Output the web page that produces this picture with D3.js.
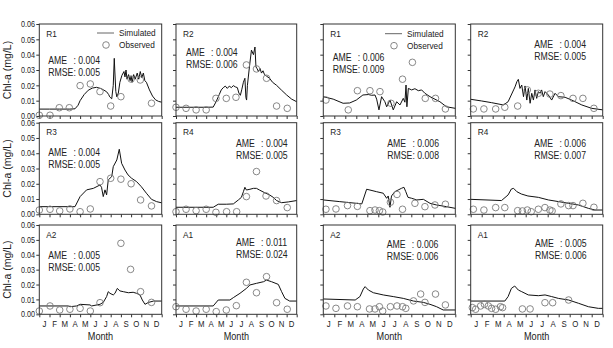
<!DOCTYPE html>
<html>
<head>
<meta charset="utf-8">
<script src="https://cdn.jsdelivr.net/npm/d3@7"></script>
<style>
  html, body { margin: 0; padding: 0; background: #fff; }
  svg { display: block; font-family: "Liberation Sans", Arial, sans-serif; }
</style>
</head>
<body>
<div id="chart"></div>
<script>
// tick labels
const months = ["J", "F", "M", "A", "M", "J", "J", "A", "S", "O", "N", "D"];
const yTicks = [0, 0.01, 0.02, 0.03, 0.04, 0.05, 0.06];
const stations = [["R1", "R2"], ["R3", "R4"], ["A2", "A1"]];

// error statistics, [AME, RMSE]
const statsLeft = { R1: [0.004, 0.005], R2: [0.004, 0.006], R3: [0.004, 0.005], R4: [0.004, 0.005], A2: [0.005, 0.005], A1: [0.011, 0.024] };
const statsRight = { R1: [0.006, 0.009], R2: [0.004, 0.005], R3: [0.006, 0.008], R4: [0.006, 0.007], A2: [0.006, 0.006], A1: [0.005, 0.006] };

// simulated series, [month, Chl-a mg/L] -- left group
const simL_R1 = [[0,0.0045],[1,0.0045],[2,0.0045],[3,0.0045],[3.5,0.0047],[3.8,0.007],[4,0.010],[4.4,0.014],[4.8,0.0168],[5.2,0.0182],[5.6,0.0187],[6,0.018],[6.3,0.017],[6.6,0.0158],[6.8,0.014],[6.9,0.0125],[7.1,0.0112],[7.25,0.02],[7.35,0.0376],[7.4,0.03],[7.5,0.016],[7.6,0.0125],[7.75,0.015],[7.9,0.022],[8.1,0.0265],[8.3,0.029],[8.4,0.0255],[8.5,0.03],[8.6,0.024],[8.75,0.027],[8.9,0.023],[9.0,0.026],[9.1,0.022],[9.25,0.027],[9.4,0.024],[9.6,0.028],[9.75,0.024],[9.9,0.029],[10.05,0.025],[10.2,0.028],[10.35,0.023],[10.5,0.022],[10.8,0.017],[11.1,0.013],[11.4,0.0105],[11.7,0.0095],[12,0.009]];
const simL_R2 = [[0,0.0057],[1,0.0057],[2,0.0057],[3,0.0057],[3.7,0.0058],[4.0,0.0095],[4.3,0.014],[4.5,0.017],[4.7,0.0185],[4.9,0.0195],[5.1,0.018],[5.3,0.0195],[5.5,0.0185],[5.7,0.0198],[5.9,0.019],[6.1,0.0185],[6.25,0.015],[6.4,0.0135],[6.55,0.0175],[6.7,0.022],[6.85,0.0246],[6.95,0.012],[7.02,0.0104],[7.1,0.02],[7.3,0.032],[7.5,0.043],[7.7,0.040],[7.85,0.045],[7.95,0.032],[8.05,0.031],[8.2,0.029],[8.35,0.031],[8.5,0.028],[8.65,0.0295],[8.8,0.027],[9.0,0.026],[9.3,0.0246],[9.6,0.022],[10,0.020],[10.5,0.0168],[11,0.0137],[11.5,0.011],[12,0.0093]];
const simL_R3 = [[0,0.005],[3.5,0.005],[4.0,0.0116],[4.64,0.016],[5.3,0.017],[5.95,0.0192],[6.1,0.0177],[6.27,0.0116],[6.44,0.016],[6.6,0.0127],[6.76,0.0225],[7.1,0.0247],[7.25,0.0312],[7.6,0.0356],[7.84,0.0426],[8.07,0.0334],[8.4,0.029],[8.7,0.0258],[9.05,0.0236],[9.54,0.0214],[10.0,0.0181],[10.5,0.0138],[11.0,0.0098],[11.5,0.0083],[12,0.0075]];
const simL_R4 = [[0,0.0046],[3.7,0.0046],[4.2,0.0066],[5.0,0.0066],[5.7,0.0068],[6.2,0.0094],[6.5,0.0111],[6.7,0.0148],[6.85,0.0177],[7.0,0.0159],[7.35,0.0164],[7.7,0.017],[8.0,0.017],[8.3,0.0159],[8.8,0.0142],[9.3,0.0127],[9.67,0.0111],[10.0,0.009],[10.5,0.0076],[11.16,0.0081],[12,0.009]];
const simL_A2 = [[0,0.0056],[2.84,0.0056],[3.0,0.0051],[3.66,0.0056],[4.0,0.0067],[4.97,0.0063],[5.13,0.0056],[5.95,0.0067],[6.27,0.008],[6.6,0.0119],[6.76,0.0152],[6.93,0.0141],[7.25,0.013],[7.42,0.0141],[7.65,0.0174],[7.9,0.0157],[8.24,0.0152],[8.73,0.0145],[9.2,0.0148],[9.54,0.0141],[9.87,0.013],[10.1,0.0096],[10.36,0.0067],[10.7,0.008],[11.2,0.0089],[12,0.0089]];
const simL_A1 = [[0,0.0056],[3.7,0.0056],[4.2,0.0096],[5.36,0.0096],[5.7,0.0112],[6.36,0.0141],[7.0,0.0174],[7.35,0.0197],[8.0,0.0208],[8.7,0.0219],[9.0,0.023],[9.5,0.0219],[10.17,0.0201],[10.5,0.0152],[10.83,0.0107],[11.3,0.0089],[12,0.0089]];

// simulated series -- right group
const simR_R1 = [[0,0.0126],[0.9,0.011],[1.8,0.0083],[2.4,0.0085],[3.0,0.0104],[3.6,0.0137],[4.1,0.014],[4.4,0.0135],[4.7,0.0137],[4.85,0.011],[5.06,0.004],[5.3,0.0126],[5.6,0.0093],[5.76,0.006],[6.06,0.0104],[6.36,0.004],[6.67,0.0093],[6.97,0.0072],[7.27,0.0115],[7.42,0.009],[7.52,0.0202],[7.6,0.006],[7.73,0.018],[8.03,0.017],[8.33,0.0178],[8.64,0.0165],[8.94,0.017],[9.24,0.0148],[9.7,0.0126],[10.6,0.0093],[11.2,0.006],[12,0.005]];
const simR_R2 = [[0,0.0109],[1,0.0098],[1.9,0.0087],[2.97,0.0072],[3.4,0.0093],[3.9,0.017],[4.03,0.019],[4.2,0.0224],[4.33,0.0239],[4.48,0.018],[4.64,0.0202],[4.8,0.0126],[4.94,0.0196],[5.1,0.0104],[5.24,0.018],[5.4,0.0083],[5.55,0.0148],[5.7,0.0104],[5.85,0.017],[6.0,0.0115],[6.15,0.0159],[6.3,0.0148],[6.45,0.017],[6.6,0.0126],[6.76,0.0159],[7.06,0.0137],[7.36,0.0104],[7.67,0.0148],[7.97,0.0126],[8.58,0.0122],[9.18,0.0104],[10.1,0.0072],[11,0.005],[12,0.004]];
const simR_R3 = [[0,0.0094],[1.5,0.0083],[3.0,0.0072],[3.5,0.0068],[3.94,0.0164],[4.24,0.0159],[4.85,0.0148],[5.45,0.0138],[5.76,0.0105],[5.9,0.012],[6.06,0.0046],[6.2,0.012],[6.5,0.0148],[6.8,0.0159],[7.1,0.017],[7.33,0.0177],[7.5,0.0148],[7.7,0.0111],[8.03,0.0105],[8.5,0.0094],[9.1,0.0098],[9.7,0.0072],[10.3,0.0061],[11.2,0.005],[12,0.0039]];
const simR_R4 = [[0,0.0098],[2.8,0.009],[3.4,0.0127],[3.7,0.0166],[3.9,0.017],[4.2,0.0148],[4.6,0.0133],[5.2,0.012],[6.15,0.0111],[7.06,0.0094],[8.0,0.0083],[8.9,0.0072],[9.8,0.0061],[10.7,0.0039],[11.3,0.0028],[12,0.0028]];
const simR_A2 = [[0,0.0103],[2.9,0.0096],[3.33,0.0119],[3.64,0.017],[3.8,0.0186],[4.1,0.0163],[4.55,0.0145],[5.45,0.013],[6.36,0.0119],[7.27,0.0107],[8.2,0.0089],[9.1,0.008],[9.7,0.0067],[10.3,0.0051],[10.9,0.0029],[12,0.0029]];
const simR_A1 = [[0,0.0089],[3.1,0.0089],[3.4,0.0119],[3.7,0.0174],[4.0,0.019],[4.33,0.0163],[4.64,0.0152],[5.24,0.013],[6.15,0.0125],[6.76,0.013],[7.36,0.0119],[7.97,0.0107],[8.9,0.0096],[9.8,0.0074],[10.7,0.0051],[11.6,0.004],[12,0.004]];

// observed samples -- left group
const obsL_R1 = [[0,0.0005],[1.05,0.0005],[1.96,0.0054],[2.94,0.0054],[4,0.0198],[5,0.0209],[5.95,0.0159],[7,0.0065],[8,0.0126],[9,0.0241],[9.9,0.0235],[11,0.0083]];
const obsL_R2 = [[0,0.0057],[1,0.005],[2,0.004],[3,0.004],[3.97,0.0115],[5,0.0115],[5.96,0.0122],[7,0.0333],[8,0.0307],[9,0.0246],[10,0.0065],[11.06,0.005]];
const obsL_R3 = [[0,0.0028],[1.05,0.0033],[2,0.0022],[3,0.0035],[4,0.0017],[5,0.0035],[5.95,0.0214],[7,0.0236],[8,0.023],[9,0.02],[9.93,0.0094],[11,0.0055]];
const obsL_R4 = [[0,0.0017],[1,0.0033],[2,0.0024],[3,0.0033],[3.97,0.0013],[5.03,0.0017],[6.03,0.0017],[7,0.0116],[8,0.028],[8.95,0.012],[10,0.009],[11.06,0.0044]];
const obsL_A2 = [[0,0.0022],[1.05,0.0056],[2,0.0029],[3,0.0034],[4,0.004],[5,0.0022],[5.95,0.0078],[8,0.0477],[8.95,0.0302],[9.93,0.0152],[11,0.008]];
const obsL_A1 = [[0,0.0051],[1,0.0034],[2,0.0022],[3,0.0034],[4,0.0018],[5,0.0029],[6,0.0058],[7,0.0215],[8,0.0145],[9,0.0253],[10,0.0078],[11.06,0.0034]];

// observed samples -- right group
const obsR_R1 = [[0.24,0.0104],[2.27,0.004],[3.1,0.0165],[4.24,0.0165],[5.15,0.0159],[6.15,0.0083],[7.2,0.024],[8.1,0.035],[9.27,0.0115],[10.2,0.0115],[11.1,0.0046]];
const obsR_R2 = [[0.24,0.0046],[1.2,0.0046],[2.27,0.0046],[3.1,0.0057],[4.27,0.0065],[5.15,0.017],[6.15,0.0148],[7.2,0.0143],[8.2,0.0133],[9.3,0.0115],[10.2,0.0115],[11.2,0.005]];
const obsR_R3 = [[0.24,0.0033],[1.15,0.0035],[2.2,0.0057],[3.1,0.0052],[4.24,0.0024],[4.7,0.0028],[5.1,0.0024],[5.4,0.0015],[6.1,0.0079],[6.7,0.013],[7.2,0.0033],[8.33,0.0072],[9.24,0.005],[10.15,0.0061],[11.1,0.0066]];
const obsR_R4 = [[0.24,0.0033],[1.2,0.0028],[2.27,0.0044],[3.1,0.0044],[4.27,0.0024],[4.7,0.0022],[5.15,0.0028],[5.5,0.0017],[6.15,0.0033],[6.75,0.0044],[7.2,0.0028],[7.4,0.0022],[8.2,0.0068],[8.9,0.0057],[9.3,0.0057],[10.2,0.0072],[11.2,0.0046]];
const obsR_A2 = [[0.24,0.0056],[1.15,0.004],[2.2,0.0056],[3.1,0.0051],[4.2,0.0036],[4.7,0.0036],[5.1,0.0051],[5.4,0.0022],[6.1,0.0051],[6.7,0.0056],[7.2,0.0051],[7.5,0.004],[8.2,0.009],[8.85,0.0136],[9.24,0.008],[10.2,0.0136],[11.1,0.0063]];
const obsR_A1 = [[0.15,0.0045],[0.45,0.0034],[0.9,0.0056],[1.25,0.0067],[1.6,0.0056],[1.9,0.004],[2.27,0.0034],[2.7,0.0051],[2.9,0.0045],[4.7,0.0036],[5.4,0.0036],[6.75,0.0078],[7.45,0.0078],[8.9,0.0096]];

const simulated = [
  { R1: simL_R1, R2: simL_R2, R3: simL_R3, R4: simL_R4, A2: simL_A2, A1: simL_A1 },
  { R1: simR_R1, R2: simR_R2, R3: simR_R3, R4: simR_R4, A2: simR_A2, A1: simR_A1 },
];
const observed = [
  { R1: obsL_R1, R2: obsL_R2, R3: obsL_R3, R4: obsL_R4, A2: obsL_A2, A1: obsL_A1 },
  { R1: obsR_R1, R2: obsR_R2, R3: obsR_R3, R4: obsR_R4, A2: obsR_A2, A1: obsR_A1 },
];
const stats = [statsLeft, statsRight];

// layout
const width = 613;
const height = 348;
const SX = 0.87; // text in the original is a bit narrow
const cols = [[39.3, 161.7], [176, 296.7], [323.3, 455.3], [470.7, 602.7]];
const rows = [[24, 116], [122.7, 214.3], [225, 314.3]];
// where the AME / RMSE block sits: [dx from left, baseline dy from top]
const statPos = [
  { R1: [9, 39.5], R2: [10, 31.5], R3: [9, 33.5], R4: [60, 24.5], A2: [9, 34], A1: [60, 21] },
  { R1: [9.4, 37], R2: [63.6, 24], R3: [64, 24.5], R4: [63.6, 24.5], A2: [63.4, 23], A1: [64.3, 22] },
];
const legendPos = [[57.7, 9], [61.7, 9.7]];

const ink = "#222";

const svg = d3
  .select("#chart")
  .append("svg")
  .attr("width", width)
  .attr("height", height)
  .attr("viewBox", `0 0 ${width} ${height}`);

svg.append("rect").attr("width", width).attr("height", height).attr("fill", "#fff");

function addText(sel, x, y, s, size, anchor) {
  return sel
    .append("text")
    .attr("transform", `translate(${x},${y}) scale(${SX},1)`)
    .attr("font-size", size)
    .attr("fill", ink)
    .attr("text-anchor", anchor || "start")
    .text(s);
}

const fmt = d3.format(".3f");

[0, 1].forEach((grp) => {
  stations.forEach((rowNames, r) => {
    rowNames.forEach((name, c) => {
      const ci = grp * 2 + c;
      const [x0, x1] = cols[ci];
      const [y0, y1] = rows[r];
      const x = d3.scaleLinear().domain([0, 12]).range([x0, x1]);
      const y = d3.scaleLinear().domain([0, 0.06]).range([y1, y0]);
      const g = svg.append("g");

      // y axis ticks (labels only on far left)
      const yAxis = g
        .append("g")
        .attr("transform", `translate(${x0},0)`)
        .call(
          d3
            .axisLeft(y)
            .tickValues(yTicks)
            .tickSize(3)
            .tickPadding(2)
            .tickFormat(ci === 0 ? d3.format(".2f") : ""),
        );
      yAxis.select(".domain").remove();
      yAxis.selectAll("line").attr("stroke", "#333");
      yAxis
        .selectAll("text")
        .attr("font-size", 8.3)
        .attr("fill", ink)
        .attr("font-family", "Liberation Sans, Arial, sans-serif")
        .attr("transform", `scale(${SX},1)`);

      // month ticks
      const xAxis = g
        .append("g")
        .attr("transform", `translate(0,${y1})`)
        .call(d3.axisBottom(x).tickValues(d3.range(0, 13)).tickSize(3).tickFormat(""));
      xAxis.select(".domain").remove();
      xAxis.selectAll("line").attr("stroke", "#333");

      if (r === 2) {
        months.forEach((m, i) => {
          addText(g, x(i + 0.5), y1 + 13, m, 9, "middle");
        });
        addText(g, (x0 + x1) / 2, y1 + 26, "Month", 10.5, "middle");
      }

      // simulated line
      const line = d3
        .line()
        .x((d) => x(d[0]))
        .y((d) => y(d[1]));
      g.append("path")
        .datum(simulated[grp][name])
        .attr("fill", "none")
        .attr("stroke", "#111")
        .attr("stroke-width", 1)
        .attr("stroke-linejoin", "round")
        .attr("d", line);

      // observed circles
      g.selectAll("circle.obs")
        .data(observed[grp][name])
        .join("circle")
        .attr("class", "obs")
        .attr("cx", (d) => x(d[0]))
        .attr("cy", (d) => y(d[1]))
        .attr("r", 3.3)
        .attr("fill", "none")
        .attr("stroke", "#7a7a7a")
        .attr("stroke-width", 0.9);

      // frame
      g.append("rect")
        .attr("x", x0)
        .attr("y", y0)
        .attr("width", x1 - x0)
        .attr("height", y1 - y0)
        .attr("fill", "none")
        .attr("stroke", "#333")
        .attr("stroke-width", 1);

      // station label
      addText(g, x0 + 7, y0 + 12.5, name, 9.5);

      // AME / RMSE block
      const [sdx, sdy] = statPos[grp][name];
      const sx = x0 + sdx;
      const sy = y0 + sdy;
      addText(g, sx, sy, "AME", 10);
      const rm = addText(g, sx, sy + 12, "RMSE", 10);
      const w = rm.node().getComputedTextLength() * SX;
      addText(g, sx + w, sy, ": " + fmt(stats[grp][name][0]), 10);
      addText(g, sx + w, sy + 12, ": " + fmt(stats[grp][name][1]), 10);

      // legend in the R1 panels
      if (name === "R1") {
        const [lx, ly] = legendPos[grp];
        g.append("line")
          .attr("x1", x0 + lx)
          .attr("x2", x0 + lx + 17)
          .attr("y1", y0 + ly)
          .attr("y2", y0 + ly)
          .attr("stroke", "#555")
          .attr("stroke-width", 0.9);
        addText(g, x0 + lx + 22, y0 + ly + 3.3, "Simulated", 9.5);
        g.append("circle")
          .attr("cx", x0 + lx + 9)
          .attr("cy", y0 + ly + 12)
          .attr("r", 3.3)
          .attr("fill", "none")
          .attr("stroke", "#7a7a7a")
          .attr("stroke-width", 0.9);
        addText(g, x0 + lx + 22, y0 + ly + 15.3, "Observed", 9.5);
      }
    });
  });
});

// y axis title for each row
rows.forEach(([y0, y1]) => {
  svg
    .append("text")
    .attr("transform", `translate(11,${(y0 + y1) / 2}) rotate(-90)`)
    .attr("font-size", 10.5)
    .attr("fill", ink)
    .attr("text-anchor", "middle")
    .text("Chl-a (mg/L)");
});
</script>
</body>
</html>
